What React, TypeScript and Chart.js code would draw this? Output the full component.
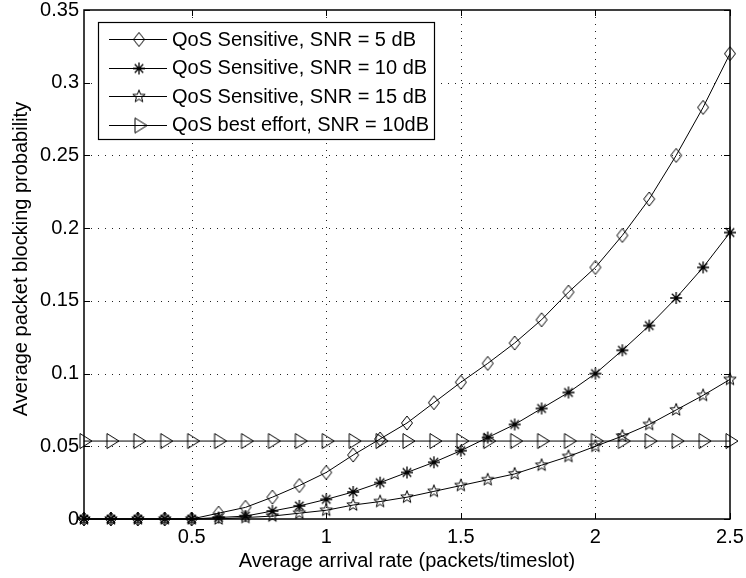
import { useEffect, useRef } from "react";
import { Chart, registerables } from "chart.js";

Chart.register(...registerables);

const xValues = [0.1, 0.2, 0.3, 0.4, 0.5, 0.6, 0.7, 0.8, 0.9, 1.0, 1.1, 1.2, 1.3, 1.4, 1.5, 1.6, 1.7, 1.8, 1.9, 2.0, 2.1, 2.2, 2.3, 2.4, 2.5];
const snr5 = [0, 0, 0, 0, 0, 0.004, 0.008, 0.015, 0.023, 0.032, 0.044, 0.055, 0.066, 0.08, 0.094, 0.107, 0.121, 0.137, 0.156, 0.173, 0.195, 0.22, 0.25, 0.283, 0.32];
const snr10 = [0, 0, 0, 0, 0, 0.001, 0.002, 0.0055, 0.009, 0.0135, 0.0186, 0.025, 0.032, 0.039, 0.047, 0.056, 0.065, 0.076, 0.087, 0.1, 0.116, 0.133, 0.152, 0.173, 0.197];
const snr15 = [0, 0, 0, 0, 0, 0, 0.001, 0.002, 0.004, 0.006, 0.0096, 0.012, 0.015, 0.019, 0.023, 0.027, 0.031, 0.037, 0.043, 0.05, 0.057, 0.065, 0.075, 0.085, 0.096];
const bestEffort = [0.0536, 0.0536, 0.0536, 0.0536, 0.0536, 0.0536, 0.0536, 0.0536, 0.0536, 0.0536, 0.0536, 0.0536, 0.0536, 0.0536, 0.0536, 0.0536, 0.0536, 0.0536, 0.0536, 0.0536, 0.0536, 0.0536, 0.0536, 0.0536, 0.0536];
const seriesLabels = [
  "QoS Sensitive, SNR = 5 dB",
  "QoS Sensitive, SNR = 10 dB",
  "QoS Sensitive, SNR = 15 dB",
  "QoS best effort, SNR = 10dB",
];
const markerKinds = ["diamond", "asterisk", "pentagram", "triangle"];
const xTicks = [0.5, 1, 1.5, 2, 2.5];
const xTickLabels = ["0.5", "1", "1.5", "2", "2.5"];
const yTicks = [0, 0.05, 0.1, 0.15, 0.2, 0.25, 0.3, 0.35];
const yTickLabels = ["0", "0.05", "0.1", "0.15", "0.2", "0.25", "0.3", "0.35"];
const xTitle = "Average arrival rate (packets/timeslot)";
const yTitle = "Average packet blocking probability";

const FONT = "'Liberation Sans', Arial, sans-serif";

function makeMarker(kind: string): HTMLCanvasElement {
  const c = document.createElement("canvas");
  c.width = 24;
  c.height = 24;
  const ctx = c.getContext("2d")!;
  ctx.strokeStyle = "#000";
  ctx.lineWidth = 1;
  ctx.translate(12, 12);
  ctx.beginPath();
  if (kind === "diamond") {
    ctx.moveTo(0, -7);
    ctx.lineTo(5.5, 0);
    ctx.lineTo(0, 7);
    ctx.lineTo(-5.5, 0);
    ctx.closePath();
  } else if (kind === "asterisk") {
    ctx.lineWidth = 1.3;
    for (let i = 0; i < 4; i++) {
      const a = (i * Math.PI) / 4;
      ctx.moveTo(6 * Math.cos(a), 6 * Math.sin(a));
      ctx.lineTo(-6 * Math.cos(a), -6 * Math.sin(a));
    }
  } else if (kind === "pentagram") {
    for (let i = 0; i < 10; i++) {
      const r = i % 2 === 0 ? 6.5 : 2.7;
      const a = -Math.PI / 2 + (i * Math.PI) / 5;
      const px = r * Math.cos(a);
      const py = r * Math.sin(a);
      if (i === 0) ctx.moveTo(px, py);
      else ctx.lineTo(px, py);
    }
    ctx.closePath();
  } else {
    ctx.moveTo(-4, -7.5);
    ctx.lineTo(8, 0);
    ctx.lineTo(-4, 7.5);
    ctx.closePath();
  }
  ctx.stroke();
  return c;
}

const PAD = 20;
const W = 746;
const H = 578;

export default function App() {
  const ref = useRef<HTMLCanvasElement | null>(null);

  useEffect(() => {
    if (!ref.current) return;
    const markers = markerKinds.map((k) => makeMarker(k));
    const seriesData = [snr5, snr10, snr15, bestEffort];

    const framePlugin = {
      id: "matlabFrame",
      beforeDatasetsDraw(chart: any) {
        const { ctx, chartArea: a, scales } = chart;
        ctx.save();
        ctx.strokeStyle = "#222";
        ctx.lineWidth = 1;
        ctx.setLineDash([1, 6]);
        xTicks.forEach((v) => {
          const px = Math.round(scales.x.getPixelForValue(v)) + 0.5;
          if (px > a.right - 2) return;
          ctx.beginPath();
          ctx.moveTo(px, a.top);
          ctx.lineTo(px, a.bottom);
          ctx.stroke();
        });
        yTicks.forEach((v) => {
          const py = Math.round(scales.y.getPixelForValue(v)) + 0.5;
          if (py > a.bottom - 2 || py < a.top + 2) return;
          ctx.beginPath();
          ctx.moveTo(a.left, py);
          ctx.lineTo(a.right, py);
          ctx.stroke();
        });
        ctx.restore();
      },
      afterDatasetsDraw(chart: any) {
        const { ctx, chartArea: a, scales } = chart;
        ctx.save();
        // ticks inward
        ctx.strokeStyle = "#000";
        ctx.lineWidth = 1;
        const tl = 6;
        xTicks.forEach((v) => {
          const px = Math.round(scales.x.getPixelForValue(v)) + 0.5;
          ctx.beginPath();
          ctx.moveTo(px, a.bottom);
          ctx.lineTo(px, a.bottom - tl);
          ctx.moveTo(px, a.top);
          ctx.lineTo(px, a.top + tl);
          ctx.stroke();
        });
        yTicks.forEach((v) => {
          const py = Math.round(scales.y.getPixelForValue(v)) + 0.5;
          ctx.beginPath();
          ctx.moveTo(a.left, py);
          ctx.lineTo(a.left + tl, py);
          ctx.moveTo(a.right, py);
          ctx.lineTo(a.right - tl, py);
          ctx.stroke();
        });
        // legend
        const lx = a.left + 14;
        const ly = a.top + 12;
        const lw = 336;
        const lh = 117;
        ctx.fillStyle = "#fff";
        ctx.fillRect(lx, ly, lw, lh);
        ctx.lineWidth = 1.2;
        ctx.strokeRect(lx + 0.5, ly + 0.5, lw, lh);
        ctx.font = `20px ${FONT}`;
        ctx.textBaseline = "middle";
        ctx.textAlign = "left";
        ctx.fillStyle = "#000";
        seriesLabels.forEach((label, i) => {
          const ry = ly + 17 + i * 28.5;
          ctx.lineWidth = 1;
          ctx.beginPath();
          ctx.moveTo(lx + 11, Math.round(ry) + 0.5);
          ctx.lineTo(lx + 69, Math.round(ry) + 0.5);
          ctx.stroke();
          const m = markers[i];
          ctx.drawImage(m, lx + 41 - m.width / 2, Math.round(ry) + 0.5 - m.height / 2);
          ctx.fillText(label, lx + 74, ry + 1);
        });
        // frame
        ctx.lineWidth = 1.5;
        ctx.strokeRect(a.left, a.top, a.right - a.left, a.bottom - a.top);
        // y axis title
        ctx.save();
        ctx.translate(PAD + 21, PAD + 259);
        ctx.rotate(-Math.PI / 2);
        ctx.textAlign = "center";
        ctx.textBaseline = "middle";
        ctx.fillText(yTitle, 0, 0);
        ctx.restore();
        ctx.restore();
      },
    };

    const chart = new Chart(ref.current, {
      type: "line",
      data: {
        datasets: seriesData.map((arr, i) => ({
          label: seriesLabels[i],
          data: arr.map((y, j) => ({ x: xValues[j], y })),
          borderColor: "#000",
          borderWidth: 1,
          backgroundColor: "rgba(0,0,0,0)",
          pointStyle: markers[i] as any,
          pointRadius: 6,
          tension: 0,
          fill: false,
          clip: false as any,
        })),
      },
      options: {
        animation: false,
        responsive: false,
        devicePixelRatio: 1,
        layout: { padding: { left: PAD, top: PAD + 10, right: PAD + 16, bottom: PAD } },
        plugins: { legend: { display: false }, tooltip: { enabled: false } },
        scales: {
          x: {
            type: "linear",
            min: 0.1,
            max: 2.5,
            afterFit: (s: any) => {
              s.height = 59;
            },
            afterBuildTicks: (s: any) => {
              s.ticks = xTicks.map((v) => ({ value: v }));
            },
            ticks: {
              color: "#000",
              font: { family: FONT, size: 20 },
              padding: 6,
              maxRotation: 0,
              callback: (v: any) => {
                const idx = xTicks.findIndex((t) => Math.abs(t - v) < 1e-9);
                return idx >= 0 ? xTickLabels[idx] : "";
              },
            },
            grid: { display: false, drawTicks: false },
            border: { display: false },
            title: {
              display: true,
              text: xTitle,
              color: "#000",
              font: { family: FONT, size: 20 },
              padding: { top: 0, bottom: 5 },
            },
          },
          y: {
            type: "linear",
            min: 0,
            max: 0.35,
            afterFit: (s: any) => {
              s.width = 84;
            },
            afterBuildTicks: (s: any) => {
              s.ticks = yTicks.map((v) => ({ value: v }));
            },
            ticks: {
              color: "#000",
              font: { family: FONT, size: 20 },
              padding: 5,
              callback: (v: any) => {
                const idx = yTicks.findIndex((t) => Math.abs(t - v) < 1e-9);
                return idx >= 0 ? yTickLabels[idx] : "";
              },
            },
            grid: { display: false, drawTicks: false },
            border: { display: false },
            title: { display: false },
          },
        },
      },
      plugins: [framePlugin],
    });
    return () => chart.destroy();
  }, []);

  return (
    <div style={{ position: "absolute", left: 0, top: 0, width: W, height: H, overflow: "hidden", background: "#fff" }}>
      <canvas
        ref={ref}
        width={W + 2 * PAD}
        height={H + 2 * PAD}
        style={{ position: "absolute", left: -PAD, top: -PAD, width: W + 2 * PAD, height: H + 2 * PAD }}
      />
    </div>
  );
}
